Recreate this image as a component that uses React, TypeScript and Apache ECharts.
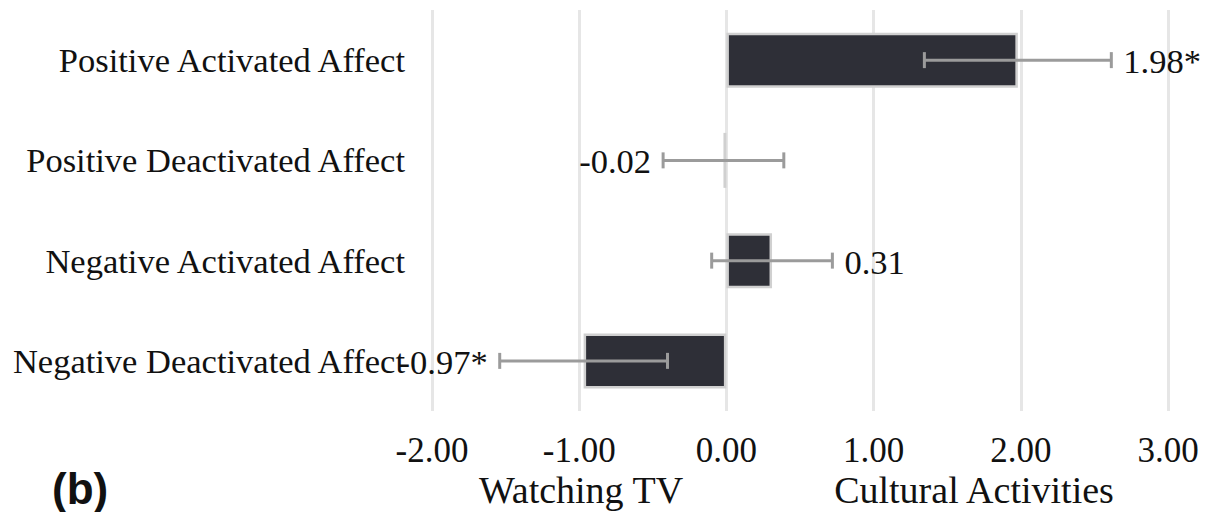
import React, { useEffect, useRef } from "react";
import * as echarts from "echarts";

const categories = [
  "Positive Activated Affect",
  "Positive Deactivated Affect",
  "Negative Activated Affect",
  "Negative Deactivated Affect",
];
const values = [1.98, -0.02, 0.31, -0.97];
const errLow = [1.345, -0.43, -0.1, -1.54];
const errHigh = [2.615, 0.39, 0.72, -0.4];
const valueLabels = ["1.98*", "-0.02", "0.31", "-0.97*"];
const xTicks = [-2, -1, 0, 1, 2, 3];

const SERIF = "'Liberation Serif', 'Times New Roman', serif";

export default function App() {
  const ref = useRef<HTMLDivElement>(null);
  useEffect(() => {
    if (!ref.current) return;
    const chart = echarts.init(ref.current, null, { renderer: "svg" });
    const errData = categories.map((_, i) => [i, errLow[i], errHigh[i], values[i]]);
    chart.setOption({
      animation: false,
      backgroundColor: "#ffffff",
      grid: { left: 432, right: 38, top: 10, bottom: 101, containLabel: false },
      xAxis: {
        type: "value",
        min: xTicks[0],
        max: xTicks[xTicks.length - 1],
        interval: 1,
        axisLine: { show: false },
        axisTick: { show: false },
        splitLine: { show: true, lineStyle: { color: "#e6e6e6", width: 3 } },
        axisLabel: {
          margin: 22,
          fontFamily: SERIF,
          fontSize: 35,
          color: "#111111",
          formatter: (v: number) => v.toFixed(2),
        },
      },
      yAxis: {
        type: "category",
        data: categories,
        inverse: true,
        axisLine: { show: false },
        axisTick: { show: false },
        splitLine: { show: false },
        axisLabel: {
          margin: 27,
          fontFamily: SERIF,
          fontSize: 34.5,
          color: "#111111",
        },
      },
      series: [
        {
          type: "bar",
          data: values,
          barWidth: 55,
          itemStyle: { color: "#2e2f37", borderColor: "#d0d0d0", borderWidth: 2.5 },
          z: 2,
        },
        {
          type: "custom",
          z: 3,
          encode: { x: [1, 2], y: 0 },
          data: errData,
          renderItem: (params: any, api: any) => {
            const cat = api.value(0);
            const lo = api.value(1);
            const hi = api.value(2);
            const v = api.value(3);
            const pL = api.coord([lo, cat]);
            const pH = api.coord([hi, cat]);
            const y = pL[1];
            const cap = 8;
            const st = { stroke: "#9b9b9b", lineWidth: 3 };
            const label = valueLabels[params.dataIndex];
            const positive = v >= 0;
            return {
              type: "group",
              children: [
                { type: "line", shape: { x1: pL[0], y1: y, x2: pH[0], y2: y }, style: st },
                { type: "line", shape: { x1: pL[0], y1: y - cap, x2: pL[0], y2: y + cap }, style: st },
                { type: "line", shape: { x1: pH[0], y1: y - cap, x2: pH[0], y2: y + cap }, style: st },
                {
                  type: "text",
                  style: {
                    text: label,
                    x: positive ? pH[0] + 12 : pL[0] - 12,
                    y: y + 1,
                    align: positive ? "left" : "right",
                    verticalAlign: "middle",
                    font: `34.5px ${SERIF}`,
                    fill: "#111111",
                  },
                },
              ],
            };
          },
        },
      ],
      graphic: [
        {
          type: "text",
          x: 52,
          y: 488,
          style: {
            text: "(b)",
            font: `bold 44px 'Liberation Sans', Arial, sans-serif`,
            fill: "#111111",
            align: "left",
            verticalAlign: "middle",
          },
        },
        {
          type: "text",
          x: 581,
          y: 490,
          style: {
            text: "Watching TV",
            font: `38px ${SERIF}`,
            fill: "#111111",
            align: "center",
            verticalAlign: "middle",
          },
        },
        {
          type: "text",
          x: 974,
          y: 490,
          style: {
            text: "Cultural Activities",
            font: `38px ${SERIF}`,
            fill: "#111111",
            align: "center",
            verticalAlign: "middle",
          },
        },
      ],
    });
    return () => chart.dispose();
  }, []);
  return (
    <div
      ref={ref}
      style={{ position: "fixed", left: 0, top: 0, width: 1206, height: 512, background: "#fff" }}
    />
  );
}
